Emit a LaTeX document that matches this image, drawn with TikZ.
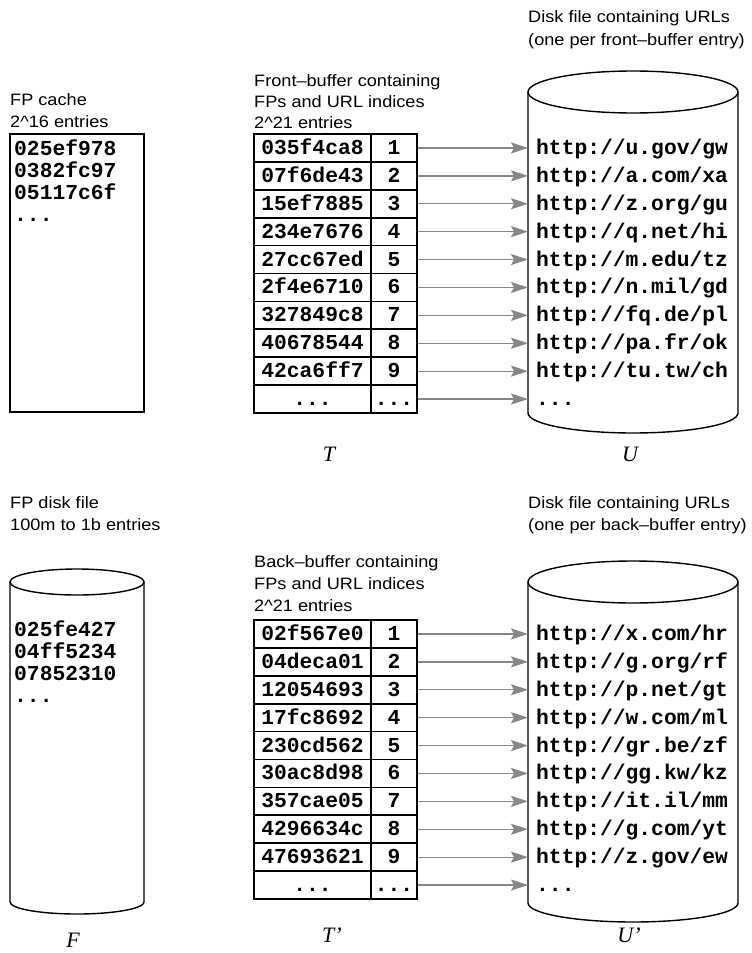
\documentclass[tikz,border=0pt]{standalone}
\usepackage{fontspec}
\usetikzlibrary{arrows.meta}
\newfontfamily\sansf[FakeStretch=1.1]{Liberation Sans}
\newfontfamily\monof{Liberation Mono}
\newfontfamily\serf{Liberation Serif}
\definecolor{arrowgray}{RGB}{135,135,135}
\begin{document}
\begin{tikzpicture}[x=1pt,y=-1pt,
  lbl/.style={anchor=base west,inner sep=0pt,font=\sansf\fontsize{16.5}{20}\selectfont},
  monotxt/.style={inner sep=0pt,font=\monof\bfseries\fontsize{21.3}{22}\selectfont,text height=13pt,text depth=0pt},
  listline/.style={monotxt,anchor=base west},
  fpcell/.style={monotxt,draw,line width=1.7pt,minimum width=117pt,minimum height=27.9pt},
  ixcell/.style={monotxt,draw,line width=1.7pt,minimum width=46pt,minimum height=27.9pt},
  urltxt/.style={monotxt,anchor=west,inner xsep=8pt},
  link/.style={draw=arrowgray,line width=1.3pt,-{Stealth[length=17pt,width=11pt,inset=3pt]}},
  cyl/.style={draw,line width=1.4pt},
  symb/.style={inner sep=0pt,font=\serf\itshape\fontsize{22}{24}\selectfont}]
\fill[white] (0,0) rectangle (752,953);
\useasboundingbox (0,0) rectangle (752,953);

% ---------- top half ----------
\node[lbl] (ucap1) at (528,23) {Disk file containing URLs};
\node[lbl] (ucap2) at (528,45) {(one per front–buffer entry)};
\node[lbl] (ccap1) at (10,105.7) {FP cache};
\node[lbl] (ccap2) at (10,127.7) {2\textasciicircum16 entries};
\node[lbl] (tcap1) at (254,86) {Front–buffer containing};
\node[lbl] (tcap2) at (254,107) {FPs and URL indices};
\node[lbl] (tcap3) at (254,128) {2\textasciicircum21 entries};

\draw[line width=1.8pt] (10,134) rectangle (144,412);
\node[listline] (c1) at (14,155.5) {025ef978};
\node[listline] (c2) at (14,177.5) {0382fc97};
\node[listline] (c3) at (14,199.5) {05117c6f};
\node[listline] (c4) at (14,221.5) {...};

% cylinder U
\draw[cyl] (528,92) -- (528,413) arc[start angle=180,end angle=360,x radius=105pt,y radius=20pt] -- (738,92);
\draw[cyl,fill=white] (633,92) ellipse [x radius=105pt,y radius=21pt];

\foreach \fp/\host/\pth [count=\i] in {035f4ca8/u.gov/gw,07f6de43/a.com/xa,15ef7885/z.org/gu,234e7676/q.net/hi,27cc67ed/m.edu/tz,2f4e6710/n.mil/gd,327849c8/fq.de/pl,40678544/pa.fr/ok,42ca6ff7/tu.tw/ch}{
  \node[fpcell] (tf\i) at (312.5,{134+27.9*(\i-0.5)}) {\fp};
  \node[ixcell] (ti\i) at (394,{134+27.9*(\i-0.5)}) {\i};
  \node[urltxt] (u\i) at (528,{134+27.9*(\i-0.5)}) {http://\host/\pth};
  \draw[link] (ti\i.east) -- (u\i.west);
}
\node[fpcell] (tf10) at (312.5,{134+27.9*9.5}) {...};
\node[ixcell] (ti10) at (394,{134+27.9*9.5}) {...};
\node[urltxt] (u10) at (528,{134+27.9*9.5}) {...};
\draw[link] (ti10.east) -- (u10.west);

\node[symb] (T) at (329,454) {T};
\node[symb] (U) at (630,454) {U};

% ---------- bottom half ----------
\node[lbl] (fcap1) at (10,508) {FP disk file};
\node[lbl] (fcap2) at (10,530) {100m to 1b entries};
\node[lbl] (bcap1) at (254,567) {Back–buffer containing};
\node[lbl] (bcap2) at (254,589) {FPs and URL indices};
\node[lbl] (bcap3) at (254,611) {2\textasciicircum21 entries};
\node[lbl] (vcap1) at (528,508) {Disk file containing URLs};
\node[lbl] (vcap2) at (528,530) {(one per back–buffer entry)};

% cylinder F
\draw[cyl] (10,582) -- (10,902) arc[start angle=180,end angle=360,x radius=67pt,y radius=12pt] -- (144,582);
\draw[cyl,fill=white] (77,582) ellipse [x radius=67pt,y radius=13pt];
\node[listline] (f1) at (14,636.7) {025fe427};
\node[listline] (f2) at (14,658.7) {04ff5234};
\node[listline] (f3) at (14,680.7) {07852310};
\node[listline] (f4) at (14,702.7) {...};

% cylinder U'
\draw[cyl] (528,582) -- (528,903) arc[start angle=180,end angle=360,x radius=105pt,y radius=19pt] -- (738,582);
\draw[cyl,fill=white] (633,582) ellipse [x radius=105pt,y radius=21pt];

\foreach \fp/\host/\pth [count=\i] in {02f567e0/x.com/hr,04deca01/g.org/rf,12054693/p.net/gt,17fc8692/w.com/ml,230cd562/gr.be/zf,30ac8d98/gg.kw/kz,357cae05/it.il/mm,4296634c/g.com/yt,47693621/z.gov/ew}{
  \node[fpcell] (bf\i) at (312.5,{620+27.9*(\i-0.5)}) {\fp};
  \node[ixcell] (bi\i) at (394,{620+27.9*(\i-0.5)}) {\i};
  \node[urltxt] (bu\i) at (528,{620+27.9*(\i-0.5)}) {http://\host/\pth};
  \draw[link] (bi\i.east) -- (bu\i.west);
}
\node[fpcell] (bf10) at (312.5,{620+27.9*9.5}) {...};
\node[ixcell] (bi10) at (394,{620+27.9*9.5}) {...};
\node[urltxt] (bu10) at (528,{620+27.9*9.5}) {...};
\draw[link] (bi10.east) -- (bu10.west);

\node[symb] (F) at (73,940) {F};
\node[symb] (Tp) at (332,935) {T’};
\node[symb] (Up) at (629,935) {U’};
\end{tikzpicture}
\end{document}
